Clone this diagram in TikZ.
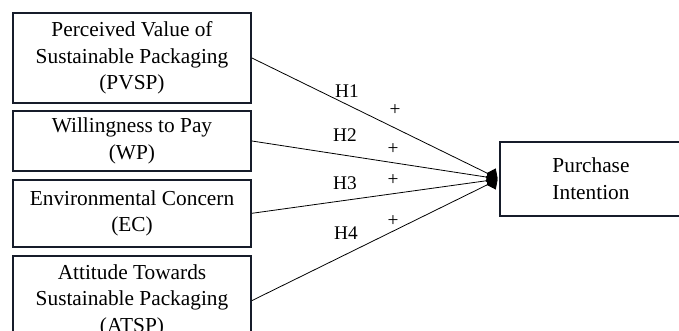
\documentclass[tikz,border=0pt]{standalone}
\usepackage{fontspec}
\setmainfont{Liberation Serif}
\usepackage{tikz}
\usetikzlibrary{positioning,arrows.meta}

\definecolor{boxline}{RGB}{22,28,42}

\begin{document}
\begin{tikzpicture}[
        x=0.75pt, y=-0.75pt,
        construct/.style={
            % The shape
            rectangle,
            minimum width = 178.5pt,
            align = center,
            inner sep = 0pt,
            % The border
            line width = 1.4pt,
            draw = boxline,
            % Font
            font = \fontsize{16pt}{20pt}\selectfont
        },
        hypo/.style={
            % Labels on the paths
            inner sep = 0pt,
            font = \fontsize{14.5pt}{17pt}\selectfont
        },
        path/.style={
            line width = 0.6pt,
            -{Diamond[length=9pt,width=12pt]},
            shorten > = 1.2pt
        },
    ]
        \useasboundingbox (0,0) rectangle (679,331);
        \clip (0,0) rectangle (679,331);

        \node (pvsp) [construct,minimum height=67.5pt] at (132,58) {Perceived Value of \\ Sustainable Packaging \\ (PVSP)};
        \node (wp) [construct,minimum height=45pt,below=4.6pt of pvsp] {Willingness to Pay \\ (WP)};
        \node (ec) [construct,minimum height=50.25pt,below=5.2pt of wp] {Environmental Concern \\ (EC)};
        \node (atsp) [construct,minimum height=67.5pt,below=5.2pt of ec] {Attitude Towards \\ Sustainable Packaging \\ (ATSP)};

        \node (pi) [construct,minimum width=136.5pt,minimum height=55.5pt] at (591,179) {Purchase \\ Intention};

        \draw[path] (pvsp.east) -- (pi.west);
        \draw[path] (wp.east) -- (pi.west);
        \draw[path] (ec.east) -- (pi.west);
        \draw[path] (atsp.east) -- (pi.west);

        \node (h1) [hypo] at (347,91) {H1};
        \node (p1) [hypo] at (395,110) {+};
        \node (h2) [hypo] at (345,135) {H2};
        \node (p2) [hypo] at (393,149) {+};
        \node (h3) [hypo] at (345,183) {H3};
        \node (p3) [hypo] at (393,180) {+};
        \node (h4) [hypo] at (346,233) {H4};
        \node (p4) [hypo] at (393,221) {+};

    \end{tikzpicture}
\end{document}
